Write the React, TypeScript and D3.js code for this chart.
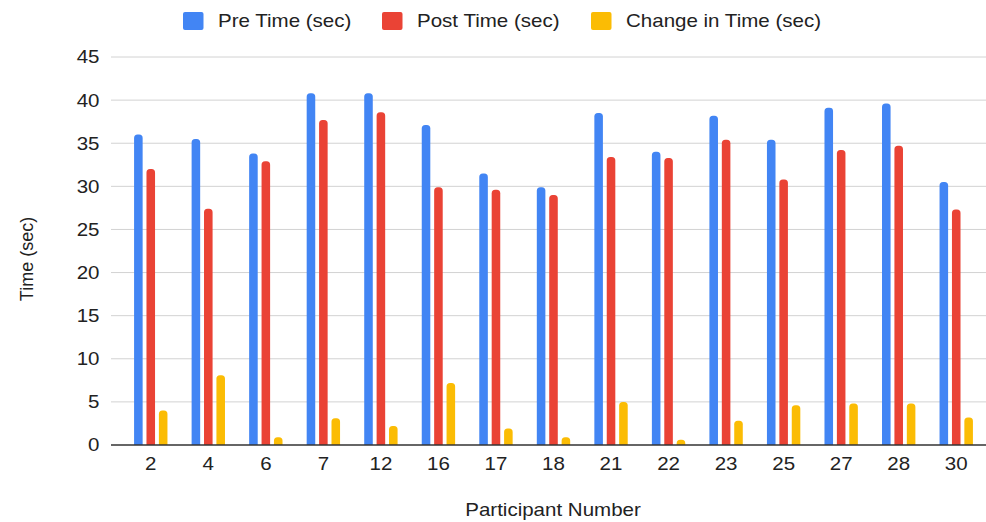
import React from "react";
import * as d3 from "d3";

const categories = ["2", "4", "6", "7", "12", "16", "17", "18", "21", "22", "23", "25", "27", "28", "30"];
const preTime = [36.0, 35.5, 33.8, 40.8, 40.8, 37.1, 31.5, 29.9, 38.5, 34.0, 38.2, 35.4, 39.1, 39.6, 30.5];
const postTime = [32.0, 27.4, 32.9, 37.7, 38.6, 29.9, 29.6, 29.0, 33.4, 33.3, 35.4, 30.8, 34.2, 34.7, 27.3];
const changeTime = [4.0, 8.1, 0.9, 3.1, 2.2, 7.2, 1.9, 0.9, 5.0, 0.6, 2.8, 4.6, 4.8, 4.8, 3.2];
const seriesNames = ["Pre Time (sec)", "Post Time (sec)", "Change in Time (sec)"];
const seriesColors = ["#4285F4", "#EA4335", "#FBBC04"];
const yTicks = [0, 5, 10, 15, 20, 25, 30, 35, 40, 45];

const W = 986;
const H = 522;
const FONT = "'Liberation Sans', Arial, Helvetica, sans-serif";
const SX = 1.14;

function topRounded(x: number, y: number, w: number, h: number, r: number) {
  const rr = Math.min(r, w / 2, h);
  const p = d3.path();
  p.moveTo(x, y + h);
  p.lineTo(x, y + rr);
  p.arcTo(x, y, x + rr, y, rr);
  p.lineTo(x + w - rr, y);
  p.arcTo(x + w, y, x + w, y + rr, rr);
  p.lineTo(x + w, y + h);
  p.closePath();
  return p.toString();
}

export default function App() {
  const series = [preTime, postTime, changeTime];
  const y = d3.scaleLinear().domain([0, 45]).range([445, 57]);
  const x0 = d3.scaleBand<string>().domain(categories).range([122, 985]).paddingInner(0.42).paddingOuter(0.21);
  const x1 = d3.scaleBand<number>().domain([0, 1, 2]).range([0, x0.bandwidth()]).paddingInner(0.31);
  const legendSquares = [183, 382, 591];

  return (
    <svg width={W} height={H} style={{ position: "absolute", left: 0, top: 0, background: "#fff" }} fontFamily={FONT}>
      <rect x={0} y={0} width={W} height={H} fill="#fff" />
      {/* gridlines */}
      {yTicks.filter((t) => t > 0).map((t) => (
        <line key={t} x1={111} x2={986} y1={y(t)} y2={y(t)} stroke="#d2d2d2" strokeWidth={1} />
      ))}
      {/* y tick labels */}
      {yTicks.map((t) => (
        <g key={"yl" + t} transform={`translate(99.5,${y(t) + 6.4}) scale(${SX},1)`}>
          <text textAnchor="end" fontSize={18} fill="#222">{t}</text>
        </g>
      ))}
      {/* bars */}
      {categories.map((c, i) => (
        <g key={c}>
          {series.map((s, j) => {
            const bx = (x0(c) as number) + (x1(j) as number);
            const by = y(s[i]);
            return (
              <path key={j} d={topRounded(bx, by, x1.bandwidth(), y(0) - by, 3.5)} fill={seriesColors[j]} />
            );
          })}
        </g>
      ))}
      {/* axis line */}
      <line x1={111} x2={986} y1={y(0)} y2={y(0)} stroke="#333" strokeWidth={1.5} />
      {/* x tick labels */}
      {categories.map((c) => (
        <g key={"xl" + c} transform={`translate(${(x0(c) as number) + x0.bandwidth() / 2},470) scale(${SX},1)`}>
          <text textAnchor="middle" fontSize={18} fill="#222">{c}</text>
        </g>
      ))}
      {/* axis titles */}
      <g transform={`translate(553,516) scale(${SX},1)`}>
        <text textAnchor="middle" fontSize={18} fill="#222">Participant Number</text>
      </g>
      <g transform={`translate(32.5,259) rotate(-90)`}>
        <text textAnchor="middle" fontSize={18} fill="#222">Time (sec)</text>
      </g>
      {/* legend */}
      {seriesNames.map((n, j) => (
        <g key={n}>
          <rect x={legendSquares[j]} y={12} width={20.5} height={18} rx={2} fill={seriesColors[j]} />
          <g transform={`translate(${legendSquares[j] + 35},26.7) scale(${SX},1)`}>
            <text fontSize={18} fill="#222">{n}</text>
          </g>
        </g>
      ))}
    </svg>
  );
}
